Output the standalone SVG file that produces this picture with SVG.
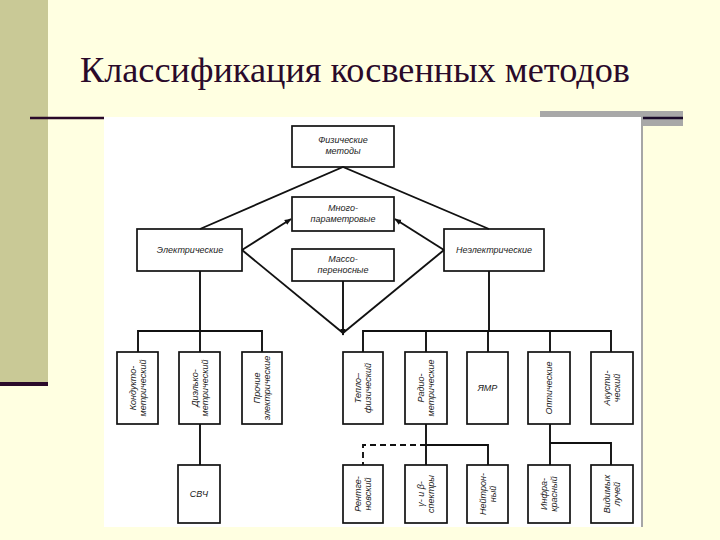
<svg xmlns="http://www.w3.org/2000/svg" width="720" height="540" viewBox="0 0 720 540">
<defs>
<style>
.bx{fill:none;stroke:#111;stroke-width:1.7}
.ln{fill:none;stroke:#111;stroke-width:1.9}
.ds{fill:none;stroke:#111;stroke-width:1.9;stroke-dasharray:6 4}
.t{font-family:"Liberation Sans",Arial,sans-serif;font-style:italic;font-size:9px;fill:#222;text-anchor:middle}
</style>
<marker id="ar" viewBox="0 0 10 10" refX="9" refY="5" markerWidth="7" markerHeight="7" orient="auto-start-reverse" markerUnits="userSpaceOnUse">
<path d="M0,1 L10,5 L0,9 z" fill="#111"/>
</marker>
</defs>
<rect width="720" height="540" fill="#FFFFE1"/>
<rect x="0" y="0" width="48" height="382" fill="#C9C996"/>
<rect x="0" y="382" width="48" height="4" fill="#2a0a2a"/>
<line x1="30" y1="118" x2="104" y2="118" stroke="#2a0a2a" stroke-width="2.5"/>
<rect x="540" y="111" width="143" height="6" fill="#A8A8A8"/>
<rect x="643" y="111" width="40" height="15" fill="#A8A8A8"/>
<line x1="643" y1="118" x2="683" y2="118" stroke="#1a0a2a" stroke-width="2.5"/>
<text x="80" y="82" font-family="'Liberation Serif','Times New Roman',serif" font-size="36" fill="#2a0a2a" textLength="550" lengthAdjust="spacingAndGlyphs">Классификация косвенных методов</text>
<rect x="104" y="117" width="539" height="410" fill="#FFFFFF"/>
<line x1="642" y1="117" x2="642" y2="527" stroke="#888" stroke-width="1.5"/>

<g id="connectors">
<polyline class="ln" points="200,229 343,167 489,229"/>
<line class="ln" x1="242" y1="250" x2="291" y2="219" marker-end="url(#ar)"/>
<line class="ln" x1="444" y1="250" x2="395" y2="219" marker-end="url(#ar)"/>
<line class="ln" x1="242" y1="250" x2="343" y2="333"/>
<line class="ln" x1="444" y1="250" x2="343" y2="333"/>
<line class="ln" x1="343" y1="281" x2="343" y2="335" marker-end="url(#ar)"/>
<line class="ln" x1="200" y1="271" x2="200" y2="331"/>
<polyline class="ln" points="138,352 138,331 262,331 262,352"/>
<line class="ln" x1="200" y1="331" x2="200" y2="352"/>
<line class="ln" x1="200" y1="424" x2="200" y2="465"/>
<line class="ln" x1="489" y1="271" x2="489" y2="331"/>
<polyline class="ln" points="363,352 363,331 611,331 611,352"/>
<line class="ln" x1="426" y1="331" x2="426" y2="352"/>
<line class="ln" x1="488" y1="331" x2="488" y2="352"/>
<line class="ln" x1="550" y1="331" x2="550" y2="352"/>
<line class="ln" x1="426" y1="424" x2="426" y2="465"/>
<polyline class="ln" points="426,445 488,445 488,465"/>
<polyline class="ds" points="426,445 363,445 363,465"/>
<line class="ln" x1="550" y1="424" x2="550" y2="465"/>
<polyline class="ln" points="550,443 611,443 611,465"/>
</g>

<g id="n-phys"><rect class="bx" x="292" y="126" width="102" height="41"/><text class="t" x="343" y="143">Физические<tspan x="343" dy="11">методы</tspan></text></g>
<g id="n-multi"><rect class="bx" x="292" y="197" width="102" height="34"/><text class="t" x="343" y="211">Много-<tspan x="343" dy="11">параметровые</tspan></text></g>
<g id="n-mass"><rect class="bx" x="292" y="249" width="102" height="32"/><text class="t" x="343" y="262">Массо-<tspan x="343" dy="11">переносные</tspan></text></g>
<g id="n-el"><rect class="bx" x="137" y="229" width="105" height="42"/><text class="t" x="190" y="253">Электрические</text></g>
<g id="n-nonel"><rect class="bx" x="444" y="229" width="100" height="42"/><text class="t" x="494" y="253">Неэлектрические</text></g>

<g id="n-kond"><rect class="bx" x="117" y="352" width="41" height="72"/><text class="t" transform="translate(137.5,388) rotate(-90)" y="-2">Кондукто-<tspan x="0" dy="10">метрический</tspan></text></g>
<g id="n-diel"><rect class="bx" x="179" y="352" width="41" height="72"/><text class="t" transform="translate(199.5,388) rotate(-90)" y="-2">Диэлько-<tspan x="0" dy="10">метрический</tspan></text></g>
<g id="n-proch"><rect class="bx" x="242" y="352" width="40" height="72"/><text class="t" transform="translate(262,388) rotate(-90)" y="-2">Прочие<tspan x="0" dy="10">электрические</tspan></text></g>
<g id="n-svch"><rect class="bx" x="178" y="465" width="42" height="58"/><text class="t" x="199" y="497">СВЧ</text></g>

<g id="n-teplo"><rect class="bx" x="343" y="352" width="40" height="72"/><text class="t" transform="translate(363,388) rotate(-90)" y="-2">Тепло–<tspan x="0" dy="10">физический</tspan></text></g>
<g id="n-radio"><rect class="bx" x="405" y="352" width="42" height="72"/><text class="t" transform="translate(426,388) rotate(-90)" y="-2">Радио-<tspan x="0" dy="10">метрические</tspan></text></g>
<g id="n-yamr"><rect class="bx" x="467" y="352" width="41" height="72"/><text class="t" x="487.5" y="391">ЯМР</text></g>
<g id="n-opt"><rect class="bx" x="528" y="352" width="42" height="72"/><text class="t" transform="translate(549,388) rotate(-90)" y="3">Оптические</text></g>
<g id="n-akust"><rect class="bx" x="591" y="352" width="42" height="72"/><text class="t" transform="translate(612,388) rotate(-90)" y="-2">Акусти-<tspan x="0" dy="10">ческий</tspan></text></g>

<g id="n-rentg"><rect class="bx" x="343" y="465" width="40" height="58"/><text class="t" transform="translate(363,494) rotate(-90)" y="-2">Рентге-<tspan x="0" dy="10">новский</tspan></text></g>
<g id="n-gamma"><rect class="bx" x="405" y="465" width="42" height="58"/><text class="t" transform="translate(426,494) rotate(-90)" y="-2">γ- и β-<tspan x="0" dy="10">спектры</tspan></text></g>
<g id="n-neutr"><rect class="bx" x="467" y="465" width="41" height="58"/><text class="t" transform="translate(487.5,494) rotate(-90)" y="-2">Нейтрон-<tspan x="0" dy="10">ный</tspan></text></g>
<g id="n-infra"><rect class="bx" x="528" y="465" width="42" height="58"/><text class="t" transform="translate(549,494) rotate(-90)" y="-2">Инфра-<tspan x="0" dy="10">красный</tspan></text></g>
<g id="n-vid"><rect class="bx" x="591" y="465" width="42" height="58"/><text class="t" transform="translate(612,494) rotate(-90)" y="-2">Видимых<tspan x="0" dy="10">лучей</tspan></text></g>
</svg>
